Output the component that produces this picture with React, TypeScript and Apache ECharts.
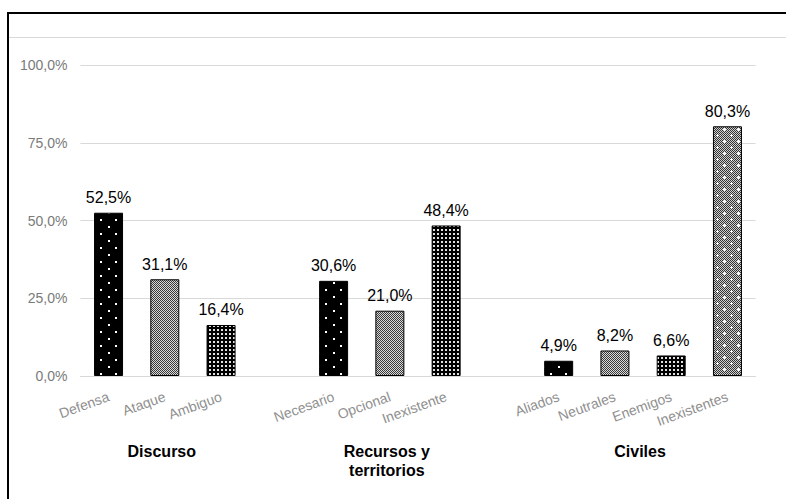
import React, { useEffect, useRef } from "react";
import * as echarts from "echarts";

const categories = [
  "Defensa", "Ataque", "Ambiguo", " ",
  "Necesario", "Opcional", "Inexistente", "  ",
  "Aliados", "Neutrales", "Enemigos", "Inexistentes",
];
const values: (number | null)[] = [
  52.5, 31.1, 16.4, null,
  30.6, 21.0, 48.4, null,
  4.9, 8.2, 6.6, 80.3,
];
const patternKinds: (string | null)[] = [
  "dots", "checker", "dense", null,
  "dots", "checker", "dense", null,
  "dots", "checker", "dense", "checkerPlus",
];
const groupNames = ["Discurso", "Recursos y\nterritorios", "Civiles"];
const groupStart = [0, 4, 8];
const groupEnd = [2, 6, 11];
const yMin = 0;
const yMax = 100;
const yInterval = 25;

const FONT = "'Liberation Sans', Arial, sans-serif";

function fmt(v: number) {
  return v.toFixed(1).replace(".", ",") + "%";
}

function makePattern(kind: string) {
  let w = 8, h = 8;
  if (kind === "dots") { w = 15; h = 14; }
  if (kind === "checker") { w = 4; h = 4; }
  if (kind === "dense") { w = 4; h = 4; }
  if (kind === "checkerPlus") { w = 14; h = 12; }
  const c = document.createElement("canvas");
  c.width = w; c.height = h;
  const ctx = c.getContext("2d")!;
  const checker = (dark: string, light: string) => {
    for (let yy = 0; yy < h; yy++) {
      for (let xx = 0; xx < w; xx++) {
        ctx.fillStyle = (xx + yy) % 2 === 0 ? dark : light;
        ctx.fillRect(xx, yy, 1, 1);
      }
    }
  };
  if (kind === "dots") {
    ctx.fillStyle = "#000";
    ctx.fillRect(0, 0, w, h);
    ctx.fillStyle = "#fff";
    ctx.fillRect(3, 2, 2, 2);
    ctx.fillRect(10, 9, 2, 2);
  } else if (kind === "checker") {
    checker("#3a3a3a", "#d8d8d8");
  } else if (kind === "dense") {
    ctx.fillStyle = "#000";
    ctx.fillRect(0, 0, w, h);
    ctx.fillStyle = "#e0e0e0";
    ctx.fillRect(1, 1, 2, 2);
  } else if (kind === "checkerPlus") {
    checker("#333", "#cfcfcf");
    ctx.fillStyle = "#fff";
    const plus = (px: number, py: number) => {
      ctx.fillRect(px - 1, py, 3, 1);
      ctx.fillRect(px, py - 1, 1, 3);
    };
    plus(3, 3);
    plus(10, 9);
  }
  return {
    image: c.toDataURL(),
    repeat: "repeat",
    imageWidth: w,
    imageHeight: h,
  } as any;
}

export default function App() {
  const ref = useRef<HTMLDivElement>(null);
  useEffect(() => {
    if (!ref.current) return;
    const chart = echarts.init(ref.current, null, { renderer: "svg" });
    const patterns: Record<string, any> = {};
    ["dots", "checker", "dense", "checkerPlus"].forEach((k) => (patterns[k] = makePattern(k)));

    const data = values.map((v, i) =>
      v == null
        ? "-"
        : {
            value: v,
            itemStyle: {
              color: patterns[patternKinds[i] as string],
              borderColor: "#000",
              borderWidth: 1,
            },
          }
    );

    chart.setOption({
      animation: false,
      backgroundColor: "#fff",
      grid: {
        left: 80.4,
        right: 30.4,
        top: 65,
        bottom: 123,
        containLabel: false,
        outerBoundsMode: "none",
      },
      xAxis: {
        type: "category",
        data: categories,
        axisLine: { show: true, lineStyle: { color: "#d9d9d9", width: 1 } },
        axisTick: { show: false },
        axisLabel: {
          rotate: 20,
          margin: 20,
          interval: 0,
          color: "#8f8f8f",
          fontSize: 14,
          fontFamily: FONT,
        },
      },
      yAxis: {
        type: "value",
        min: yMin,
        max: yMax,
        interval: yInterval,
        axisLine: { show: false },
        axisTick: { show: false },
        axisLabel: {
          formatter: (v: number) => fmt(v),
          color: "#7a7a7a",
          fontSize: 14,
          fontFamily: FONT,
          margin: 13,
        },
        splitLine: { lineStyle: { color: "#d9d9d9", width: 1 } },
      },
      series: [
        {
          type: "bar",
          data,
          barWidth: 29,
          label: {
            show: true,
            position: "top",
            distance: 7,
            formatter: (p: any) => fmt(p.value),
            color: "#000",
            fontSize: 16,
            fontFamily: FONT,
          },
        },
      ],
    });

    const groupTexts = groupNames.map((name, g) => {
      const x0 = chart.convertToPixel({ xAxisIndex: 0 }, groupStart[g]) as number;
      const x1 = chart.convertToPixel({ xAxisIndex: 0 }, groupEnd[g]) as number;
      return {
        type: "text",
        x: (x0 + x1) / 2 - 3,
        y: 442,
        style: {
          text: name,
          align: "center",
          verticalAlign: "top",
          font: `bold 16px ${FONT}`,
          fill: "#000",
          lineHeight: 19,
        },
      };
    });

    chart.setOption({
      graphic: [
        {
          type: "rect",
          shape: { x: 8, y: 13, width: 820, height: 540 },
          style: { fill: "none", stroke: "#000", lineWidth: 2 },
        },
        {
          type: "line",
          shape: { x1: 9, y1: 37.5, x2: 786, y2: 37.5 },
          style: { stroke: "#d9d9d9", lineWidth: 1 },
        },
        ...groupTexts,
      ],
    });

    return () => chart.dispose();
  }, []);
  return (
    <div
      ref={ref}
      style={{ position: "absolute", left: 0, top: 0, width: 786, height: 499 }}
    />
  );
}
